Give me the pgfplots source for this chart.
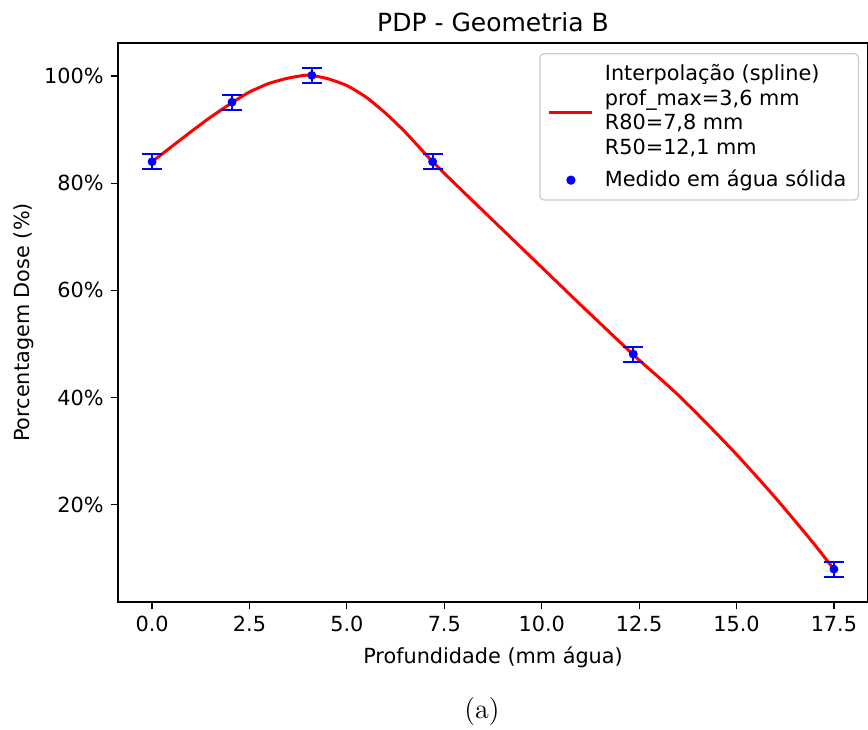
\documentclass[border=0pt]{standalone}
\usepackage{fontspec}
\usepackage{pgfplots}
\pgfplotsset{compat=1.18}
\newfontfamily\dejavu{DejaVu Sans}
\definecolor{legedge}{RGB}{204,204,204}
\pgfplotsset{
  linelegend/.style={legend image code/.code={\draw[##1] (0pt,-0.8pt) -- (21.5pt,-0.8pt); \path (25pt,0pt);}},
  dotlegend/.style={legend image code/.code={\draw[##1] plot coordinates {(10.75pt,0pt)}; \path (0pt,0pt) (25pt,0pt);}},
}
\begin{document}
\begin{tikzpicture}
\begin{axis}[
  scale only axis,
  width=375pt, height=279.5pt,
  xmin=-0.875, xmax=18.375,
  ymin=1.86, ymax=106.14,
  axis line style={line width=0.6pt},
  tick align=outside,
  xtick pos=left, ytick pos=left,
  major tick length=3.65pt,
  tick style={line width=0.6pt, black},
  xtick={0,2.5,5,7.5,10,12.5,15,17.5},
  ytick={20,40,60,80,100},
  xticklabel style={/pgf/number format/fixed, /pgf/number format/fixed zerofill, /pgf/number format/precision=1},
  yticklabel={\pgfmathprintnumber{\tick}\%},
  /pgf/number format/assume math mode=true,
  tick label style={font=\fontsize{10.4}{12}\selectfont\dejavu},
  label style={font=\fontsize{10.4}{12}\selectfont\dejavu},
  xlabel={Profundidade (mm água)},
  ylabel={Porcentagem Dose (\%)},
  xlabel style={at={(axis description cs:0.5,-0.0984)}, anchor=center},
  ylabel style={at={(axis description cs:-0.126,0.5)}, anchor=center},
  title={PDP - Geometria B},
  every axis title shift=0pt,
  title style={at={(axis description cs:0.5,1.0376)}, anchor=center, font=\fontsize{12.5}{14}\selectfont\dejavu},
  legend style={at={(axis description cs:0.988,0.982)}, anchor=north east,
    draw=legedge, rounded corners=2pt, line width=0.6pt,
    font=\fontsize{10.4}{12.25}\selectfont\dejavu,
    inner xsep=4pt, inner ysep=3pt, row sep=2.5pt},
  legend cell align=left,
]
\addplot[red, line width=1.5pt, smooth, tension=0.35, linelegend]
coordinates {
(0,84.0) (0.5,86.8) (1.0,89.6) (1.5,92.3) (2.05,95.0) (2.5,97.0) (3.0,98.6)
(3.5,99.6) (4.0,100.15) (4.5,99.5) (5.0,98.2) (5.5,96.0) (6.0,93.0) (6.5,89.5)
(7.2,84.0) (8.0,78.3) (9.0,71.3) (10.0,64.3) (11.0,57.3) (12.35,48.0)
(13.0,43.8) (13.5,40.5) (14.0,36.9) (14.5,33.2) (15.0,29.4) (15.5,25.4)
(16.0,21.3) (16.5,17.0) (17.0,12.6) (17.5,8.0)
};
\addlegendentry{\begin{tabular}[b]{@{}l@{}}Interpolação (spline)\\ prof\_max=3,6 mm\\ R80=7,8 mm\\ R50=12,1 mm\end{tabular}}
\addplot[blue, only marks, mark=*, mark size=2pt, dotlegend]
coordinates {(0,84.0) (2.05,95.1) (4.1,100.1) (7.2,84.0) (12.35,48.1) (17.5,8.0)};
\addlegendentry{Medido em água sólida}
\addplot[blue, draw=none, mark=none, line width=1pt, forget plot,
  error bars/.cd, y dir=both, y explicit,
  error mark options={blue, line width=1pt, mark size=5pt, rotate=90},
  error bar style={line width=1pt, blue}]
coordinates {(0,84.0) +- (0,1.4) (2.05,95.1) +- (0,1.4) (4.1,100.1) +- (0,1.4)
 (7.2,84.0) +- (0,1.4) (12.35,48.1) +- (0,1.4) (17.5,8.0) +- (0,1.4)};
\end{axis}
\node[font=\fontsize{14}{16}\selectfont] at (182pt,-55pt) {(a)};
\pgfresetboundingbox
\path[use as bounding box] (-59pt,-63.5pt) rectangle (375pt,301pt);
\end{tikzpicture}
\end{document}
